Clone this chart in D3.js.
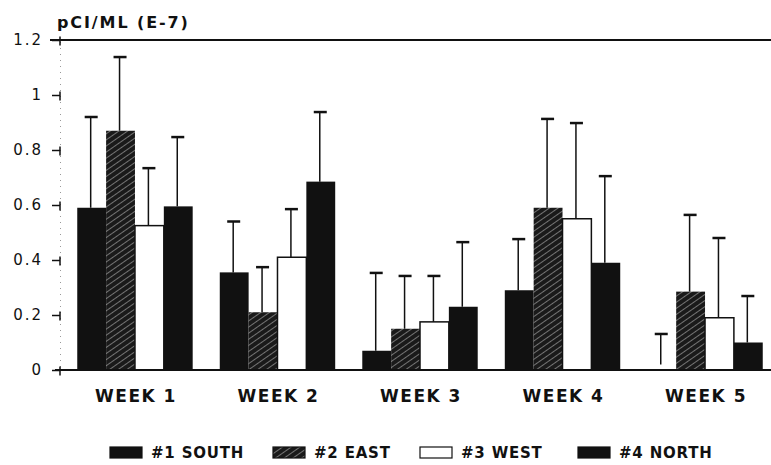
<!DOCTYPE html>
<html>
<head>
<meta charset="utf-8">
<script src="https://cdn.jsdelivr.net/npm/d3@7"></script>
<style>
body { margin: 0; background: #fff; }
svg { display: block; font-family: "DejaVu Sans", sans-serif; }
</style>
</head>
<body>
<div id="chart"></div>
<script>
const weeks = ['WEEK 1', 'WEEK 2', 'WEEK 3', 'WEEK 4', 'WEEK 5'];
const sites = ['#1 SOUTH', '#2 EAST', '#3 WEST', '#4 NORTH'];
// mean per week, one array per site
const south = [0.59, 0.355, 0.07, 0.29, 0];
const east = [0.87, 0.21, 0.15, 0.59, 0.285];
const west = [0.525, 0.41, 0.175, 0.55, 0.19];
const north = [0.595, 0.685, 0.23, 0.39, 0.1];
// top of the error bar
const southErr = [0.92, 0.54, 0.353, 0.476, 0.131];
const eastErr = [1.138, 0.374, 0.342, 0.913, 0.564];
const westErr = [0.734, 0.585, 0.342, 0.898, 0.48];
const northErr = [0.847, 0.938, 0.465, 0.705, 0.269];
const yTicks = [0, 0.2, 0.4, 0.6, 0.8, 1, 1.2];

const width = 771, height = 465;
const svg = d3.select('#chart').append('svg')
    .attr('width', width)
    .attr('height', height);

const defs = svg.append('defs');
const hatch = defs.append('pattern')
    .attr('id', 'hatch')
    .attr('patternUnits', 'userSpaceOnUse')
    .attr('width', 5)
    .attr('height', 5)
    .attr('patternTransform', 'rotate(-35)');
hatch.append('rect').attr('width', 5).attr('height', 5).attr('fill', '#1a1a1a');
hatch.append('line')
    .attr('x1', 0).attr('y1', 0).attr('x2', 5).attr('y2', 0)
    .attr('stroke', '#8a8a8a').attr('stroke-width', 1.6);

const x0 = d3.scaleBand().domain(weeks).range([63, 777]).paddingInner(0.19).paddingOuter(0.1);
const x1 = d3.scaleBand().domain(sites).range([0, x0.bandwidth()]);
const y = d3.scaleLinear().domain([0, 1.2]).range([370, 40]);

const fills = ['#111', 'url(#hatch)', '#fff', '#111'];
const means = [south, east, west, north];
const errs = [southErr, eastErr, westErr, northErr];

const rows = [];
weeks.forEach((w, i) => {
    sites.forEach((s, j) => {
        rows.push({week: w, site: s, j, v: means[j][i], e: errs[j][i]});
    });
});

// faint y axis
const yAxis = svg.append('g')
    .attr('transform', 'translate(60,0)')
    .call(d3.axisLeft(y).tickValues(yTicks).tickSize(8).tickPadding(9)
        .tickFormat(d => d === 0 || d === 1 ? String(d) : d3.format('.1f')(d)));
yAxis.select('.domain').attr('stroke', '#999').attr('stroke-dasharray', '1,5');
yAxis.selectAll('.tick line').attr('stroke', '#111').attr('stroke-width', 1.5);
yAxis.selectAll('.tick').append('line')
    .attr('x1', 0).attr('x2', 0).attr('y1', -4).attr('y2', 5)
    .attr('stroke', '#111').attr('stroke-width', 1.5);
yAxis.selectAll('.tick text')
    .attr('font-size', 15)
    .attr('letter-spacing', 2)
    .attr('fill', '#111')
    .attr('font-family', '"DejaVu Sans", sans-serif');

// top line at 1.2
svg.append('line')
    .attr('x1', 50).attr('x2', width)
    .attr('y1', y(1.2)).attr('y2', y(1.2))
    .attr('stroke', '#111').attr('stroke-width', 2);

const bars = svg.append('g');
bars.selectAll('rect')
    .data(rows)
    .enter().append('rect')
    .attr('x', d => x0(d.week) + x1(d.site))
    .attr('y', d => y(d.v))
    .attr('width', x1.bandwidth())
    .attr('height', d => y(0) - y(d.v))
    .attr('fill', d => fills[d.j])
    .attr('stroke', d => d.j === 2 ? '#111' : 'none')
    .attr('stroke-width', 1.5);

const err = svg.append('g').attr('stroke', '#111');
err.selectAll('line.stem')
    .data(rows)
    .enter().append('line')
    .attr('class', 'stem')
    .attr('x1', d => x0(d.week) + x1(d.site) + x1.bandwidth() / 2 - 1)
    .attr('x2', d => x0(d.week) + x1(d.site) + x1.bandwidth() / 2 - 1)
    .attr('y1', d => y(Math.max(d.v, 0.02)))
    .attr('y2', d => y(d.e))
    .attr('stroke-width', 1.5);
err.selectAll('line.cap')
    .data(rows)
    .enter().append('line')
    .attr('class', 'cap')
    .attr('x1', d => x0(d.week) + x1(d.site) + x1.bandwidth() / 2 - 7)
    .attr('x2', d => x0(d.week) + x1(d.site) + x1.bandwidth() / 2 + 6)
    .attr('y1', d => y(d.e))
    .attr('y2', d => y(d.e))
    .attr('stroke-width', 2.5);

// baseline
svg.append('line')
    .attr('x1', 55).attr('x2', width)
    .attr('y1', y(0)).attr('y2', y(0))
    .attr('stroke', '#111').attr('stroke-width', 2);

// week labels
svg.append('g').selectAll('text')
    .data(weeks)
    .enter().append('text')
    .attr('x', d => x0(d) + x0.bandwidth() / 2 + 1)
    .attr('y', 402)
    .attr('text-anchor', 'middle')
    .attr('font-size', 17)
    .attr('font-weight', 'bold')
    .attr('letter-spacing', 1.5)
    .attr('fill', '#111')
    .text(d => d);

// y title
svg.append('text')
    .attr('x', 57)
    .attr('y', 28)
    .attr('font-size', 16)
    .attr('font-weight', 'bold')
    .attr('letter-spacing', 1.9)
    .attr('fill', '#111')
    .text('pCI/ML (E-7)');

// legend
const legendX = [110, 273, 420, 578];
const legend = svg.append('g').selectAll('g')
    .data(sites)
    .enter().append('g')
    .attr('transform', (d, i) => `translate(${legendX[i]},447)`);
legend.append('rect')
    .attr('width', 32)
    .attr('height', 11)
    .attr('fill', (d, i) => fills[i])
    .attr('stroke', '#111')
    .attr('stroke-width', 1.2);
legend.append('text')
    .attr('x', 41)
    .attr('y', 11)
    .attr('font-size', 15)
    .attr('font-weight', 'bold')
    .attr('letter-spacing', 0.8)
    .attr('fill', '#111')
    .text(d => d);
</script>
</body>
</html>
